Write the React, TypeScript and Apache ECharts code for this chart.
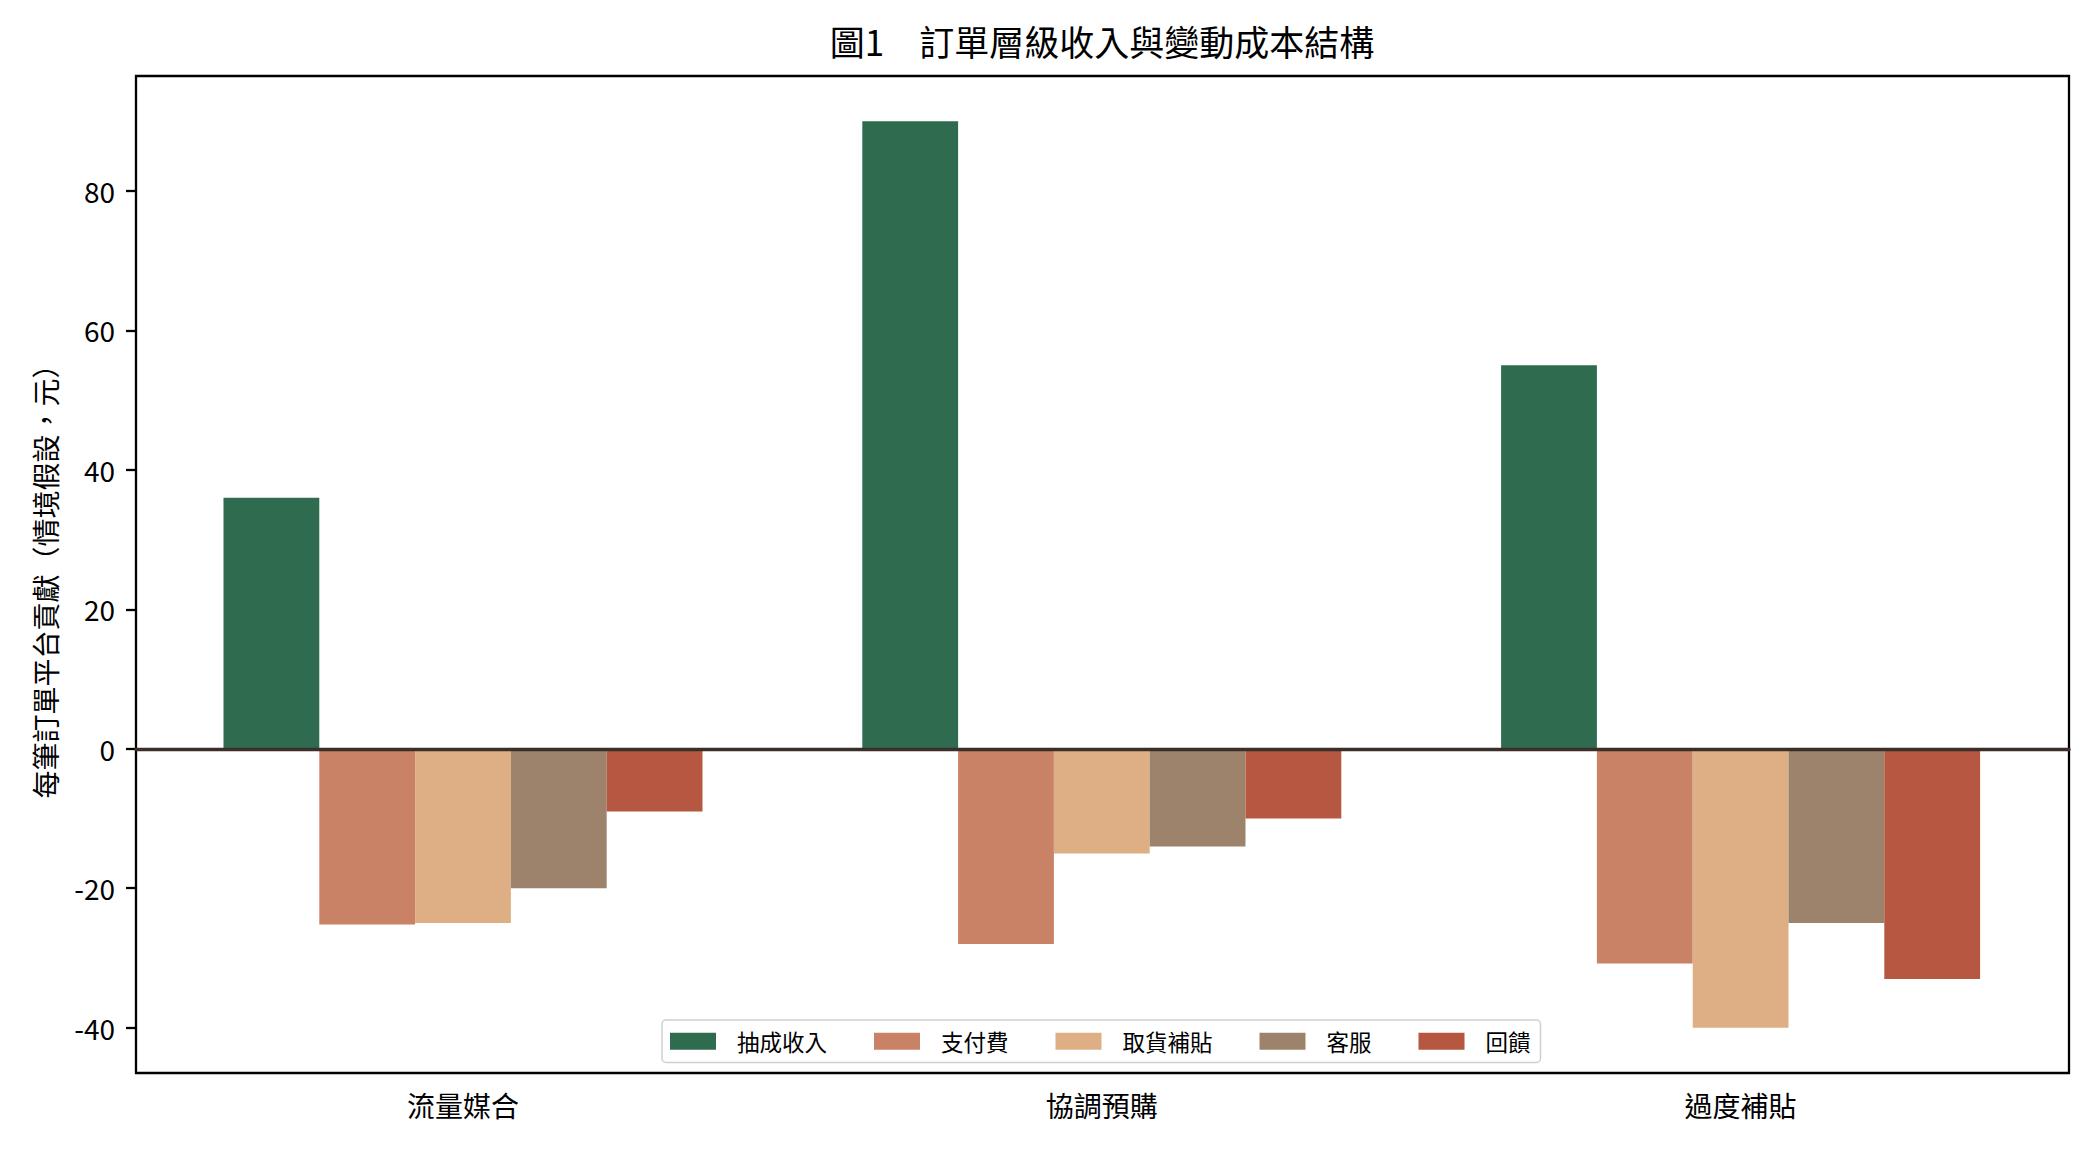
import * as echarts from 'echarts';
import { useEffect, useRef } from 'react';
import type { ECharts } from 'echarts';

const categories = ['流量媒合', '協調預購', '過度補貼'];
const seriesNames = ['抽成收入', '支付費', '取貨補貼', '客服', '回饋'];

// per-order contribution (scenario values, 元)
const commission = [36, 90, 55];
const paymentFee = [-25.2, -28, -30.8];
const pickupSubsidy = [-25, -15, -40];
const customerService = [-20, -14, -25];
const feedback = [-9, -10, -33];

const yTicks = [-40, -20, 0, 20, 40, 60, 80];
const colors = ['#2f6b4f', '#c98265', '#deaf85', '#9d836c', '#b65742'];

const FONT = '"Noto Sans CJK TC", "Noto Sans CJK SC", sans-serif';
const Y_MIN = -46.5;
const Y_MAX = 96.5;

const App = () => {
  const chartRef = useRef<HTMLDivElement>(null);

  useEffect(() => {
    let chart: ECharts | null = null;
    if (chartRef.current !== null) {
      chart = echarts.init(chartRef.current, null, { renderer: 'svg' });
    }

    const values = [commission, paymentFee, pickupSubsidy, customerService, feedback];

    const options = {
      animation: false,
      backgroundColor: '#ffffff',
      textStyle: { fontFamily: FONT },
      title: {
        text: '圖1　訂單層級收入與變動成本結構',
        left: 1102,
        top: 23,
        padding: 0,
        textAlign: 'center',
        textStyle: { fontFamily: FONT, fontSize: 35, fontWeight: 'normal', color: '#000' },
      },
      legend: {
        data: seriesNames,
        left: 662,
        top: 1020,
        orient: 'horizontal',
        icon: 'rect',
        itemWidth: 46,
        itemHeight: 17,
        itemGap: 47,
        padding: [10, 10, 10, 8],
        borderColor: '#cfcfcf',
        borderWidth: 1.5,
        borderRadius: 4,
        backgroundColor: 'rgba(255,255,255,0.85)',
        textStyle: { fontFamily: FONT, fontSize: 22.5, color: '#000', padding: [0, 0, 0, 16] },
      },
      grid: [
        // frame + y axis
        { left: 136, top: 76, width: 1933, height: 997, show: true, borderColor: '#000', borderWidth: 2.3, backgroundColor: 'transparent' },
        // bars
        { left: 143.6, top: 76, width: 1916.4, height: 997 },
      ],
      xAxis: [
        {
          type: 'value',
          gridIndex: 0,
          min: 0,
          max: 1,
          z: 10,
          axisLine: { show: true, onZero: true, lineStyle: { color: '#3b2f2a', width: 3.3 } },
          axisTick: { show: false },
          axisLabel: { show: false },
          splitLine: { show: false },
        },
        {
          type: 'category',
          gridIndex: 1,
          data: categories,
          axisLine: { show: false },
          axisTick: { show: true, alignWithLabel: true, length: 10, lineStyle: { color: '#000', width: 2.3 } },
          axisLabel: { fontFamily: FONT, fontSize: 28, color: '#000', margin: 18 },
          splitLine: { show: false },
        },
      ],
      yAxis: [
        {
          type: 'value',
          gridIndex: 0,
          min: Y_MIN,
          max: Y_MAX,
          name: '每筆訂單平台貢獻（情境假設，元）',
          nameLocation: 'middle',
          nameRotate: 90,
          nameGap: 77,
          nameTextStyle: { fontFamily: FONT, fontSize: 28, color: '#000' },
          axisLine: { show: false },
          axisTick: { show: true, length: 10, customValues: yTicks, lineStyle: { color: '#000', width: 2.3 } },
          axisLabel: { fontFamily: FONT, fontSize: 28, color: '#000', margin: 21, customValues: yTicks },
          splitLine: { show: false },
        },
        {
          type: 'value',
          gridIndex: 1,
          min: Y_MIN,
          max: Y_MAX,
          show: false,
          splitLine: { show: false },
        },
      ],
      series: seriesNames.map((name, i) => ({
        name,
        type: 'bar',
        xAxisIndex: 1,
        yAxisIndex: 1,
        data: values[i],
        barWidth: 95.8,
        barGap: '0%',
        itemStyle: { color: colors[i] },
      })),
    };

    chart?.setOption(options);

    return () => {
      chart?.dispose();
      chart = null;
    };
  }, []);

  return (
    <div
      ref={chartRef}
      style={{ position: 'fixed', left: 0, top: 0, width: 2100, height: 1155 }}
    ></div>
  );
};

export default App;
